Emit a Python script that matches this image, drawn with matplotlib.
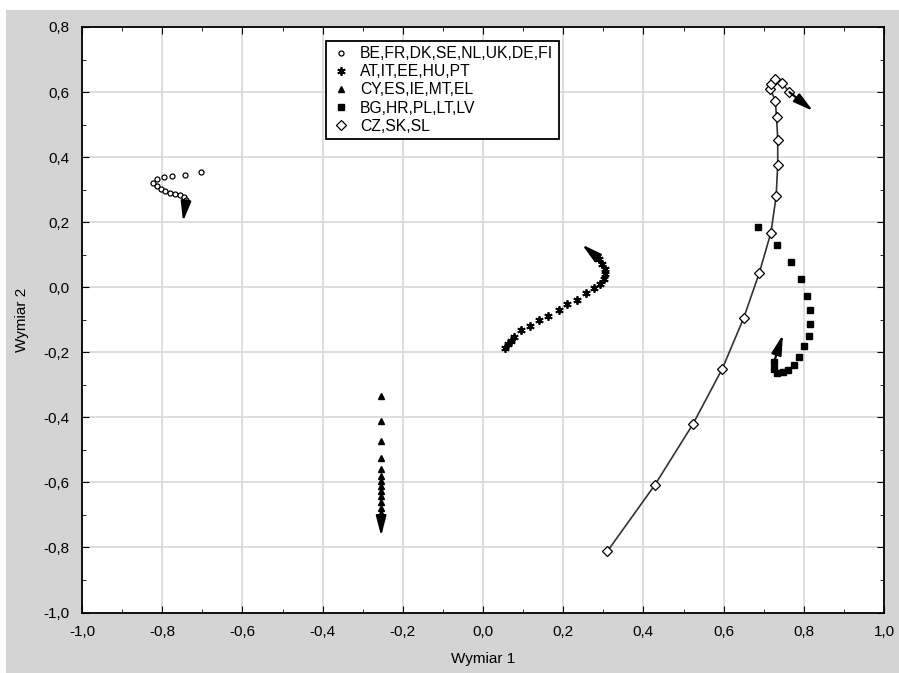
import matplotlib
matplotlib.use("Agg")
import matplotlib.pyplot as plt
from matplotlib.ticker import MultipleLocator, FuncFormatter
from matplotlib.patches import Rectangle

plt.rcParams['font.family'] = ['Liberation Sans', 'DejaVu Sans']

# series (Wymiar 1, Wymiar 2), in time order
be_x = [-0.703, -0.742, -0.775, -0.795, -0.813, -0.823, -0.814, -0.804, -0.793,
        -0.781, -0.768, -0.756, -0.745, -0.741, -0.741]
be_y = [0.354, 0.346, 0.342, 0.339, 0.333, 0.321, 0.311, 0.303, 0.296,
        0.291, 0.286, 0.283, 0.278, 0.269, 0.263]
be_end = (-0.748, 0.202)

at_x = [0.056, 0.062, 0.069, 0.077, 0.094, 0.116, 0.139, 0.163, 0.189, 0.210,
        0.235, 0.257, 0.277, 0.293, 0.302, 0.305, 0.303, 0.297, 0.290]
at_y = [-0.186, -0.174, -0.164, -0.152, -0.133, -0.120, -0.102, -0.087, -0.069, -0.053,
        -0.038, -0.017, -0.002, 0.010, 0.026, 0.041, 0.057, 0.072, 0.087]
at_end = (0.247, 0.131)

cy_x = [-0.254] * 14
cy_y = [-0.333, -0.411, -0.473, -0.526, -0.558, -0.581, -0.597, -0.612, -0.628,
        -0.643, -0.659, -0.678, -0.695, -0.705]
cy_end = (-0.254, -0.765)

bg_x = [0.687, 0.734, 0.769, 0.794, 0.808, 0.815, 0.815, 0.812, 0.801, 0.788,
        0.775, 0.761, 0.747, 0.732, 0.726, 0.726]
bg_y = [0.185, 0.130, 0.077, 0.024, -0.026, -0.070, -0.113, -0.149, -0.182, -0.213,
        -0.238, -0.254, -0.262, -0.265, -0.251, -0.229]
bg_end = (0.748, -0.146)

cz_x = [0.310, 0.428, 0.523, 0.597, 0.650, 0.689, 0.718, 0.731, 0.735, 0.735,
        0.732, 0.729, 0.716, 0.718, 0.728, 0.745, 0.764]
cz_y = [-0.812, -0.609, -0.422, -0.250, -0.095, 0.044, 0.168, 0.279, 0.377, 0.454,
        0.523, 0.574, 0.610, 0.626, 0.641, 0.628, 0.600]
cz_end = (0.823, 0.542)

labels = ['BE,FR,DK,SE,NL,UK,DE,FI', 'AT,IT,EE,HU,PT', 'CY,ES,IE,MT,EL',
          'BG,HR,PL,LT,LV', 'CZ,SK,SL']

fig = plt.figure(figsize=(8.99, 6.73), dpi=100)
fig.patch.set_facecolor('white')
# grey panel behind the chart
fig.patches.append(Rectangle((6 / 899, 0), 1, 1 - 10 / 673, transform=fig.transFigure,
                             facecolor='#d4d4d4', edgecolor='none', zorder=-10))

ax = fig.add_axes([82 / 899, 1 - 612.5 / 673, 802 / 899, 585.5 / 673])
ax.set_facecolor('white')

ax.plot(be_x, be_y, 'o', ms=3.6, mfc='white', mec='black', mew=0.9, ls='none', label=labels[0])
ax.plot(at_x, at_y, marker=(6, 2, 0), ms=6, color='black', mew=1.3, ls='none', label=labels[1])
ax.plot(cy_x, cy_y, '^', ms=4, color='black', ls='none', label=labels[2])
ax.plot(bg_x, bg_y, 's', ms=4, color='black', ls='none', label=labels[3])
ax.plot(cz_x, cz_y, '-', color='#333333', lw=1.2, zorder=2)
ax.plot(cz_x, cz_y, 'D', ms=5.2, mfc='white', mec='black', mew=0.9, ls='none', zorder=3,
        label=labels[4])

# direction arrows at the end of each trajectory
for xs, ys, end in [(be_x, be_y, be_end), (at_x, at_y, at_end), (cy_x, cy_y, cy_end),
                    (bg_x, bg_y, bg_end), (cz_x, cz_y, cz_end)]:
    ax.annotate('', xy=end, xytext=(xs[-1], ys[-1]),
                arrowprops=dict(arrowstyle='-|>,head_length=0.85,head_width=0.22',
                                color='black', lw=1.6, mutation_scale=14,
                                shrinkA=0, shrinkB=0))

ax.set_xlim(-1, 1)
ax.set_ylim(-1, 0.8)
ax.xaxis.set_major_locator(MultipleLocator(0.2))
ax.yaxis.set_major_locator(MultipleLocator(0.2))
ax.xaxis.set_minor_locator(MultipleLocator(0.1))
ax.yaxis.set_minor_locator(MultipleLocator(0.1))
fmt = FuncFormatter(lambda v, p: f"{v:.1f}".replace('.', ','))
ax.xaxis.set_major_formatter(fmt)
ax.yaxis.set_major_formatter(fmt)
ax.tick_params(which='both', direction='in', top=True, right=True, color='black')
ax.tick_params(which='major', length=5, labelsize=11)
ax.tick_params(which='minor', length=3)
ax.tick_params(axis='x', pad=9)
ax.tick_params(axis='y', pad=9)
ax.grid(True, which='major', color='#d8d8d8', lw=1.2)
ax.set_axisbelow(True)
for s in ax.spines.values():
    s.set_linewidth(1.3)

ax.set_xlabel('Wymiar 1', fontsize=11, labelpad=9)
ax.set_ylabel('Wymiar 2', fontsize=11, labelpad=10)

leg = ax.legend(loc='upper left', bbox_to_anchor=(0.295, 0.99), numpoints=1,
                fontsize=11.3, frameon=True, fancybox=False, edgecolor='black',
                framealpha=1, handlelength=1.2, handletextpad=0.6, borderpad=0.35,
                labelspacing=0.2)
leg.get_frame().set_linewidth(1.3)

fig.savefig('out.png', dpi=100)
plt.close(fig)
